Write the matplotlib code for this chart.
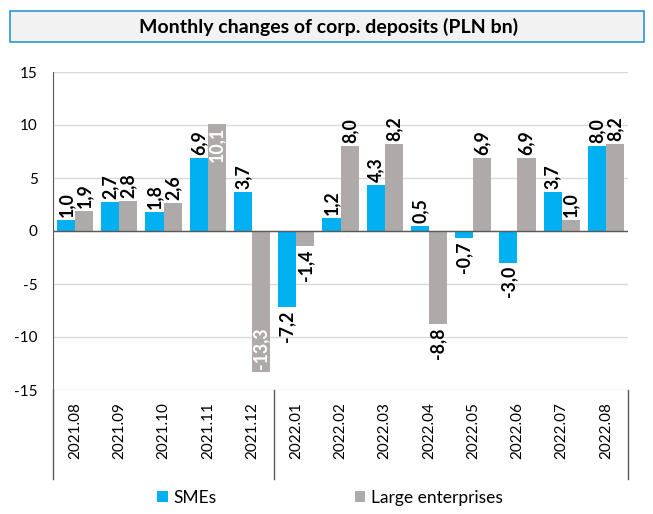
import matplotlib
matplotlib.use("Agg")
import matplotlib.pyplot as plt
import numpy as np
from matplotlib.patches import Rectangle
from matplotlib.lines import Line2D

categories = ["2021.08", "2021.09", "2021.10", "2021.11", "2021.12", "2022.01", "2022.02",
              "2022.03", "2022.04", "2022.05", "2022.06", "2022.07", "2022.08"]
smes = [1.0, 2.7, 1.8, 6.9, 3.7, -7.2, 1.2, 4.3, 0.5, -0.7, -3.0, 3.7, 8.0]
large = [1.9, 2.8, 2.6, 10.1, -13.3, -1.4, 8.0, 8.2, -8.8, 6.9, 6.9, 1.0, 8.2]
series_names = ["SMEs", "Large enterprises"]
title = "Monthly changes of corp. deposits (PLN bn)"

plt.rcParams['font.family'] = ['Lato', 'DejaVu Sans']
BLUE = "#00B0F0"
GREY = "#AEAAAA"

fig = plt.figure(figsize=(6.53, 5.14), dpi=100)
ax = fig.add_axes([53/653, 1-390/514, (628-53)/653, (390-72)/514])

x = np.arange(len(categories))
w = 0.41
b1 = ax.bar(x - w/2, smes, w, color=BLUE, label=series_names[0])
b2 = ax.bar(x + w/2, large, w, color=GREY, label=series_names[1])

ax.set_xlim(-0.5, len(categories) - 0.5)
ax.set_ylim(-15, 15)
ax.set_yticks(np.arange(-15, 16, 5))
ax.set_yticklabels([str(v) for v in range(-15, 16, 5)], fontsize=11)
ax.tick_params(axis='y', length=0, pad=11)
ax.set_xticks([])
ax.grid(axis='y', color='#d9d9d9', linewidth=1)
ax.set_axisbelow(True)
for s in ['top', 'right', 'bottom']:
    ax.spines[s].set_visible(False)
ax.spines['left'].set_color('#595959')
ax.axhline(0, color='#595959', linewidth=1, zorder=3)

def fmt(v):
    return f"{v:.1f}".replace(".", ",")

FS = 12.8
for xs, vals in [(x - w/2, smes), (x + w/2, large)]:
    for xi, v in zip(xs, vals):
        inside = abs(v) >= 10
        if inside:
            if v > 0:
                ax.text(xi, v - 0.3, fmt(v), rotation=90, ha='center', va='top',
                        color='white', fontsize=FS, fontweight='bold', zorder=5)
            else:
                ax.text(xi, v + 0.3, fmt(v), rotation=90, ha='center', va='bottom',
                        color='white', fontsize=FS, fontweight='bold', zorder=5)
        else:
            if v >= 0:
                ax.text(xi, v + 0.3, fmt(v), rotation=90, ha='center', va='bottom',
                        color='black', fontsize=FS, fontweight='bold', zorder=5)
            else:
                ax.text(xi, v - 0.3, fmt(v), rotation=90, ha='center', va='top',
                        color='black', fontsize=FS, fontweight='bold', zorder=5)

# category labels
for xi, c in zip(x, categories):
    ax.annotate(c, xy=(xi, 0), xycoords=('data', 'axes fraction'), xytext=(0, -9),
                textcoords='offset points', rotation=90, ha='center', va='top', fontsize=11)

# group separators
yb = -(479-390)/(390-72)
for xv in [-0.5, 4.5, 12.5]:
    ax.add_line(Line2D([xv, xv], [0, yb], transform=ax.get_xaxis_transform(),
                       color='#595959', linewidth=1, clip_on=False))

# title box
fig.patches.append(Rectangle((10/653, 1-42/514), 634/653, 31/514, transform=fig.transFigure,
                             facecolor='#f2f2f2', edgecolor='#2e95cf', linewidth=1.2))
fig.text(329/653, 1-27/514, title, ha='center', va='center', fontsize=14, fontweight='bold')

fig.legend(handles=[b1, b2], loc='center', bbox_to_anchor=(330/653, 1-498/514), ncol=2,
           frameon=False, fontsize=12.5, handlelength=0.6, handleheight=0.6,
           columnspacing=8.0, handletextpad=0.3)

fig.savefig("out.png", dpi=100)
